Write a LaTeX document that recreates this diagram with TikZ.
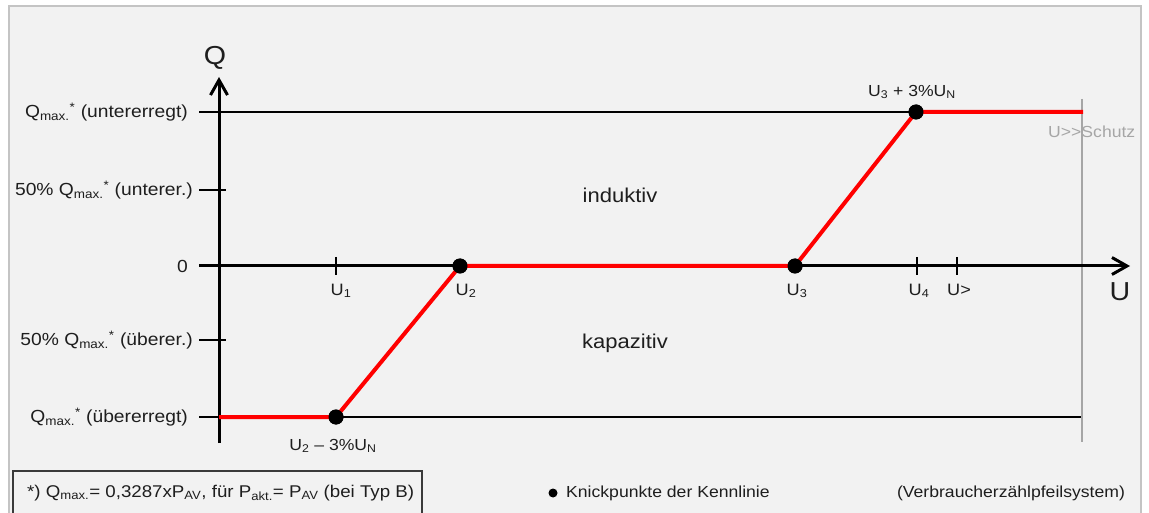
\documentclass[tikz,border=0pt]{standalone}
\usepackage{fontspec}
\setmainfont{Liberation Sans}[FakeStretch=1.1]
\usetikzlibrary{arrows.meta}
\definecolor{bg}{HTML}{F2F2F2}
\definecolor{framec}{HTML}{C4C4C4}
\definecolor{kred}{HTML}{FF0000}
\definecolor{gline}{HTML}{A6A6A6}
\definecolor{boxline}{HTML}{3A3A3A}
\definecolor{txt}{HTML}{1E1E1E}
\begin{document}
\begin{tikzpicture}[x=1pt,y=-1pt,
  lbl/.style={inner sep=0pt, text=txt, font=\fontsize{17.5}{20}\selectfont},
  ulbl/.style={inner sep=0pt, text=txt, font=\fontsize{16.5}{19}\selectfont, anchor=base},
  biglbl/.style={inner sep=0pt, text=txt, font=\fontsize{26}{30}\selectfont},
  midlbl/.style={inner sep=0pt, text=txt, font=\fontsize{20}{24}\selectfont},
  smalllbl/.style={inner sep=0pt, text=txt, font=\fontsize{16}{19}\selectfont},
  axisline/.style={line width=3pt, black, -{Straight Barb[length=15pt,width=17pt,line width=3pt]}},
  thinline/.style={line width=1.3pt, black},
  tickline/.style={line width=2.3pt, black},
  kennlinie/.style={line width=4pt, kred, line join=round},
  knick/.style={circle, fill=black, inner sep=0pt, minimum size=15pt},
]
\useasboundingbox (0,0) rectangle (1149,513);
\clip (0,0) rectangle (1149,513);
\fill[white] (0,0) rectangle (1149,513);
\fill[bg] (8.5,6) rectangle (1141,520);
\draw[framec, line width=2pt] (8.5,520) -- (8.5,6) -- (1141,6) -- (1141,520);

% coordinates
\coordinate (ytop) at (219,77);
\coordinate (ybot) at (219,443);
\coordinate (xleft) at (199,266);
\coordinate (xright) at (1130,266);
\coordinate (qtopL) at (199,112);
\coordinate (qbotL) at (199,417);
\coordinate (qbotR) at (1081,417);
\coordinate (h1L) at (199,190);
\coordinate (h1R) at (226,190);
\coordinate (h2L) at (199,340);
\coordinate (h2R) at (226,340);
\coordinate (redstart) at (219,417);
\coordinate (redend) at (1083,112);
\coordinate (schutzT) at (1082,99);
\coordinate (schutzB) at (1082,442);
\coordinate (t1a) at (336,257); \coordinate (t1b) at (336,275);
\coordinate (t4a) at (917,257); \coordinate (t4b) at (917,275);
\coordinate (t5a) at (957,257); \coordinate (t5b) at (957,275);

% knick points
\node[knick] (k1) at (336,417) {};
\node[knick] (k2) at (460,266) {};
\node[knick] (k3) at (795,266) {};
\node[knick] (k4) at (916,112) {};

% U>> Schutz
\draw[gline, line width=1.2pt] (schutzT) -- (schutzB);
\node[smalllbl, text=gline, anchor=west] (schutz) at (1048,132) {U>{}>Schutz};

% thin level lines
\draw[thinline] (qtopL) -- (k4.center);
\draw[thinline] (qbotL) -- (qbotR);
\draw[tickline] (h1L) -- (h1R);
\draw[tickline] (h2L) -- (h2R);

% axes
\draw[axisline] (ybot) -- (ytop);
\draw[axisline] (xleft) -- (xright);
\draw[tickline] (t1a) -- (t1b);
\draw[tickline] (t4a) -- (t4b);
\draw[tickline] (t5a) -- (t5b);

% characteristic
\draw[kennlinie] (redstart) -- (k1.center) -- (k2.center) -- (k3.center) -- (k4.center) -- (redend);
\node[knick] at (k1) {};
\node[knick] at (k2) {};
\node[knick] at (k3) {};
\node[knick] at (k4) {};

% axis labels
\node[biglbl] (qlab) at (215,58) {Q};
\node[biglbl] (ulab) at (1120,292) {U};

% y labels
\node[lbl, anchor=east] (ly1) at (188,112) {Q\textsubscript{max.}\textsuperscript{*} (untererregt)};
\node[lbl, anchor=east] (ly2) at (193,190) {50\% Q\textsubscript{max.}\textsuperscript{*} (unterer.)};
\node[lbl, anchor=east] (ly3) at (188,266) {0};
\node[lbl, anchor=east] (ly4) at (193,340) {50\% Q\textsubscript{max.}\textsuperscript{*} (überer.)};
\node[lbl, anchor=east] (ly5) at (188,417) {Q\textsubscript{max.}\textsuperscript{*} (übererregt)};

% x labels
\node[ulbl] (lu1) at (341,295) {U\textsubscript{1}};
\node[ulbl] (lu2) at (466,295) {U\textsubscript{2}};
\node[ulbl] (lu3) at (797,295) {U\textsubscript{3}};
\node[ulbl] (lu4) at (919,295) {U\textsubscript{4}};
\node[ulbl] (lu5) at (959,295) {U>};

% point labels
\node[smalllbl] (lk4) at (912,92) {U\textsubscript{3} + 3\%U\textsubscript{N}};
\node[smalllbl] (lk1) at (333,446) {U\textsubscript{2} \textendash{} 3\%U\textsubscript{N}};

% regions
\node[midlbl] (ind) at (620,195) {induktiv};
\node[midlbl] (kap) at (625,343) {kapazitiv};

% footnote
\draw[boxline, line width=1.5pt] (13,520) -- (13,471) -- (422,471) -- (422,520);
\node[inner sep=0pt, text=txt, font=\fontsize{17}{20}\selectfont, anchor=west] (fn) at (27,493)
  {*) Q\textsubscript{max.}= 0,3287xP\textsubscript{AV}, für P\textsubscript{akt.}= P\textsubscript{AV} (bei Typ B)};

% legend
\node[circle, fill=black, inner sep=0pt, minimum size=9pt] (legdot) at (553,493) {};
\node[smalllbl, anchor=west] (legtxt) at (566,493) {Knickpunkte der Kennlinie};
\node[smalllbl] (vzs) at (1011,493) {(Verbraucherzählpfeilsystem)};
\end{tikzpicture}
\end{document}
